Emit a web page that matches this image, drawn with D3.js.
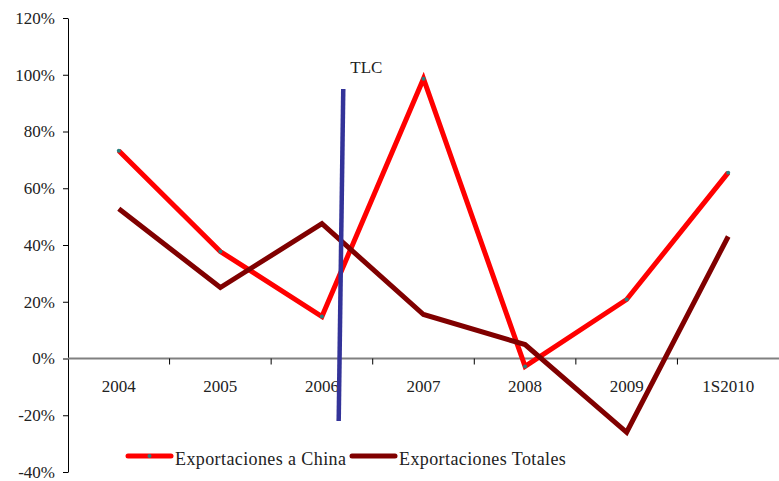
<!DOCTYPE html>
<html><head><meta charset="utf-8">
<script src="https://cdn.jsdelivr.net/npm/d3@7"></script>
<style>
html,body{margin:0;padding:0;background:#fff;}
</style></head>
<body><svg id="c" width="779" height="481"></svg>
<script>
const categories = ["2004","2005","2006","2007","2008","2009","1S2010"];
const china = [73.2, 37.7, 14.8, 98.6, -2.8, 20.8, 65.5];
const totales = [52.8, 25.0, 47.5, 15.5, 4.9, -26.0, 43.0];
const yTicks = [-40,-20,0,20,40,60,80,100,120];
const seriesNames = ["Exportaciones a China","Exportaciones Totales"];
// TLC marker: category, offsets within step (top/bottom), value range
const tlc = {label:"TLC", cat:"2006", offTop:0.21, offBottom:0.165, top:95, bottom:-22};

(function(){
const FONT = "'Liberation Serif', 'Times New Roman', serif";
const svg = d3.select("#c");
const mL = 68, mR = 779, mT = 18, mB = 472;
const x = d3.scaleBand().domain(categories).range([mL, mR]);
const y = d3.scaleLinear().domain([-40,120]).range([mB, mT]);
const cx = c => x(c) + x.bandwidth()/2;

// y axis
const yAxis = d3.axisLeft(y).tickValues(yTicks).tickFormat(d => d + "%").tickSize(5).tickSizeOuter(0).tickPadding(8);
const gy = svg.append("g").attr("transform",`translate(${mL},0)`).call(yAxis)
  .attr("font-family",FONT).attr("font-size",17);
gy.select(".domain").attr("stroke","#000");
gy.selectAll(".tick line").attr("stroke","#000");
gy.selectAll("text").style("font-family",FONT).style("font-size","17px").attr("fill","#222");

// zero line + category ticks
svg.append("line").attr("x1",mL).attr("x2",mR).attr("y1",y(0)).attr("y2",y(0))
  .attr("stroke","#808080").attr("stroke-width",2);
svg.selectAll(".ctick").data(categories.slice(1)).enter().append("line")
  .attr("x1",d=>x(d)).attr("x2",d=>x(d)).attr("y1",y(0)).attr("y2",y(0)+6)
  .attr("stroke","#000").attr("stroke-width",1);
svg.selectAll(".clab").data(categories).enter().append("text")
  .attr("x",d=>cx(d)).attr("y",y(0)+33).attr("text-anchor","middle")
  .style("font-family",FONT).style("font-size","17px").attr("fill","#222").text(d=>d);

const line = d3.line().x((d,i)=>cx(categories[i])).y(d=>y(d));
svg.append("path").datum(china).attr("d",line).attr("fill","none")
  .attr("stroke","#ff0000").attr("stroke-width",5).attr("stroke-linejoin","miter");
svg.selectAll(".mk").data(china).enter().append("circle")
  .attr("cx",(d,i)=>cx(categories[i])).attr("cy",d=>y(d)).attr("r",2).attr("fill","#2a7f7f");
svg.append("path").datum(totales).attr("d",line).attr("fill","none")
  .attr("stroke","#800000").attr("stroke-width",5).attr("stroke-linejoin","miter");

// TLC line
const step = x.step();
svg.append("line")
  .attr("x1",cx(tlc.cat)+tlc.offTop*step).attr("y1",y(tlc.top))
  .attr("x2",cx(tlc.cat)+tlc.offBottom*step).attr("y2",y(tlc.bottom))
  .attr("stroke","#333399").attr("stroke-width",4.5);
svg.append("text").attr("x",cx(tlc.cat)+tlc.offTop*step+7).attr("y",y(tlc.top)-16)
  .style("font-family",FONT).style("font-size","17px").attr("fill","#222").text(tlc.label);

// legend
const lg = svg.append("g");
const items = [{name:seriesNames[0],color:"#ff0000",x:128,marker:true},{name:seriesNames[1],color:"#800000",x:352,marker:false}];
items.forEach(it=>{
  lg.append("line").attr("x1",it.x).attr("x2",it.x+43).attr("y1",456).attr("y2",456)
    .attr("stroke",it.color).attr("stroke-width",5).attr("stroke-linecap","round");
  if(it.marker) lg.append("circle").attr("cx",it.x+21.5).attr("cy",456).attr("r",2).attr("fill","#2a7f7f");
  lg.append("text").attr("x",it.x+47).attr("y",465).style("font-family",FONT).style("font-size","18px")
    .style("letter-spacing","0.4px").attr("fill","#222").text(it.name);
});
})();
</script></body></html>
